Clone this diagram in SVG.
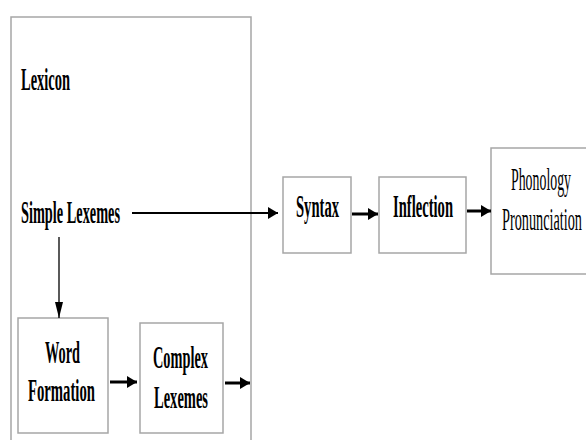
<svg xmlns="http://www.w3.org/2000/svg" width="586" height="440" viewBox="0 0 586 440">
<defs>
<marker id="ah" viewBox="0 0 16 8" refX="16" refY="4" markerWidth="16" markerHeight="8" markerUnits="userSpaceOnUse" orient="auto">
<path d="M0,0 L16,4 L0,8 z" fill="#000"/>
</marker>
<marker id="ahb" viewBox="0 0 10 12" refX="10" refY="6" markerWidth="10" markerHeight="12" markerUnits="userSpaceOnUse" orient="auto">
<path d="M0,0 L10,6 L0,12 z" fill="#000"/>
</marker>
</defs>
<style>
.box{fill:#fff;stroke:#a6a6a6;stroke-width:1.5}
.t{font-family:"Liberation Serif","Times New Roman",serif;font-size:31px;fill:#000}
.b{font-weight:bold}
.c{stroke:#000;fill:none}
</style>
<rect width="586" height="440" fill="#fff"/>
<g id="lexicon">
<rect class="box" x="11" y="17" width="240" height="440"/>
<text class="t b" x="21" y="90" textLength="49" lengthAdjust="spacingAndGlyphs">Lexicon</text>
</g>
<g id="simple-lexemes">
<text class="t b" x="21" y="223" textLength="99" lengthAdjust="spacingAndGlyphs">Simple Lexemes</text>
</g>
<g id="word-formation">
<rect class="box" x="18" y="318" width="90" height="115"/>
<text class="t b" x="45" y="363" textLength="35" lengthAdjust="spacingAndGlyphs">Word</text>
<text class="t b" x="28" y="401" textLength="67" lengthAdjust="spacingAndGlyphs">Formation</text>
</g>
<g id="complex-lexemes">
<rect class="box" x="140" y="323" width="83" height="110"/>
<text class="t b" x="153" y="368" textLength="55" lengthAdjust="spacingAndGlyphs">Complex</text>
<text class="t b" x="154" y="408" textLength="54" lengthAdjust="spacingAndGlyphs">Lexemes</text>
</g>
<g id="syntax">
<rect class="box" x="283" y="177" width="68" height="76"/>
<text class="t b" x="296" y="217" textLength="43" lengthAdjust="spacingAndGlyphs">Syntax</text>
</g>
<g id="inflection">
<rect class="box" x="379" y="177" width="87" height="76"/>
<text class="t b" x="393" y="217" textLength="60" lengthAdjust="spacingAndGlyphs">Inflection</text>
</g>
<g id="phonology">
<rect class="box" x="491" y="148" width="110" height="126"/>
<text class="t" x="511" y="190" textLength="60" lengthAdjust="spacingAndGlyphs">Phonology</text>
<text class="t" x="502" y="230" textLength="80" lengthAdjust="spacingAndGlyphs">Pronunciation</text>
</g>
<g id="connectors">
<line class="c" x1="132" y1="213" x2="278" y2="213" stroke-width="2.2" marker-end="url(#ahb)"/>
<line class="c" x1="59" y1="237" x2="59" y2="318" stroke-width="1.3" marker-end="url(#ah)"/>
<line class="c" x1="110" y1="382" x2="137" y2="382" stroke-width="3" marker-end="url(#ahb)"/>
<line class="c" x1="225" y1="383" x2="250" y2="383" stroke-width="3" marker-end="url(#ahb)"/>
<line class="c" x1="352" y1="214" x2="378" y2="214" stroke-width="3" marker-end="url(#ahb)"/>
<line class="c" x1="467" y1="211" x2="491" y2="211" stroke-width="3" marker-end="url(#ahb)"/>
</g>
</svg>
